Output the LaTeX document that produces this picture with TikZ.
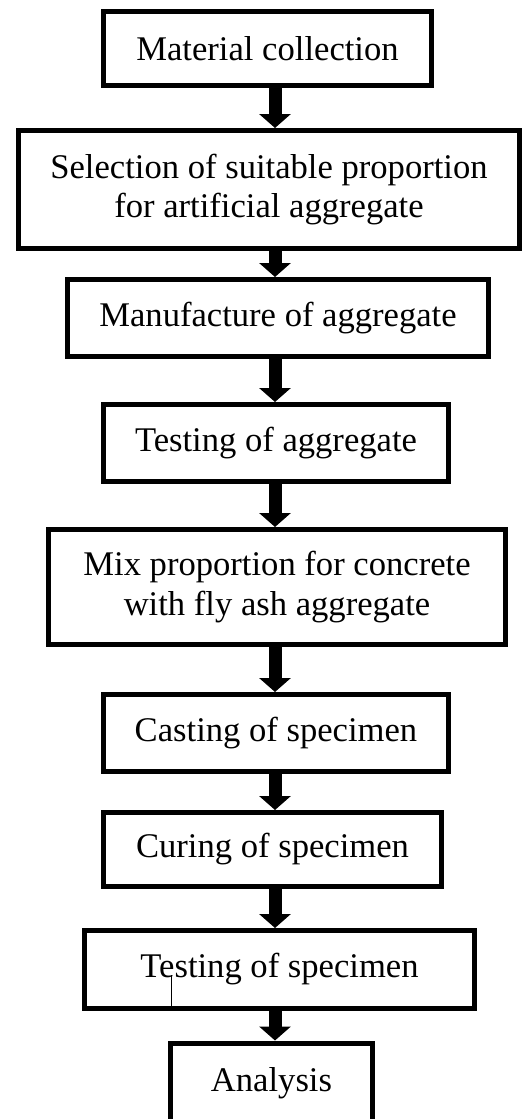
\documentclass[tikz,border=0pt]{standalone}
\usepackage{fontspec}
\setmainfont{Liberation Serif}
\usetikzlibrary{arrows.meta}

\tikzset{
  stepbox/.style={draw,line width=2.5pt,align=center,inner sep=0pt,
    font=\fontsize{17.3}{19.6}\selectfont},
  flow/.style={line width=6.5pt,-{Triangle[width=15.5pt,length=7pt]}}
}

\begin{document}
\begin{tikzpicture}[x=0.5pt,y=-0.5pt,line join=miter]
  \useasboundingbox (0,0) rectangle (527,1119);
  \clip (0,0) rectangle (527,1119);
  \coordinate (spine) at (275,0);
  \node[stepbox,minimum width=164pt,minimum height=37pt] (b1) at (267.5,48.5) {Material collection};
  \node[stepbox,minimum width=250.5pt,minimum height=59pt] (b2) at (269,189.5) {Selection of suitable proportion\\for artificial aggregate};
  \node[stepbox,minimum width=210.5pt,minimum height=38.5pt] (b3) at (278,318) {Manufacture of aggregate};
  \node[stepbox,minimum width=172.5pt,minimum height=38.5pt] (b4) at (276,443) {Testing of aggregate};
  \node[stepbox,minimum width=228.5pt,minimum height=57.5pt] (b5) at (277,587) {Mix proportion for concrete\\with fly ash aggregate};
  \node[stepbox,minimum width=172.5pt,minimum height=38.5pt] (b6) at (276,733) {Casting of specimen};
  \node[stepbox,minimum width=169pt,minimum height=37pt] (b7) at (272.5,849.5) {Curing of specimen};
  \node[stepbox,minimum width=195pt,minimum height=39pt] (b8) at (279.5,969.5) {Testing of specimen};
  \node[stepbox,minimum width=101pt,minimum height=40pt] (b9) at (271.5,1083) {Analysis};
  % arrows down the column
  \foreach \a/\b in {b1/b2,b2/b3,b3/b4,b4/b5,b5/b6,b6/b7,b7/b8,b8/b9}
    \draw[flow] (\a.south -| spine) -- (\b.north -| spine);
  \draw[line width=0.5pt] (171,975) -- (b8.south -| 171,0);
\end{tikzpicture}
\end{document}
